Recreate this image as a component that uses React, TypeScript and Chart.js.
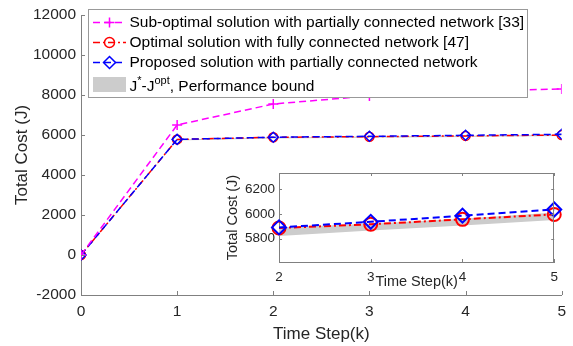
import React, { useEffect, useRef } from "react";
import { Chart, registerables } from "chart.js";

Chart.register(...registerables);

// ---- data ----
const timeSteps = [0, 1, 2, 3, 4, 5];
const subOptimalCost = [0, 6500, 7550, 7950, 8200, 8300];
const optimalCost = [0, 5780, 5885, 5915, 5955, 5995];
const proposedCost = [0, 5780, 5890, 5935, 5985, 6035];
const boundUpper = [0, 5780, 5890, 5920, 5960, 6010];
const boundLower = [0, 5720, 5820, 5865, 5905, 5950];

const mainXTicks = [0, 1, 2, 3, 4, 5];
const mainYTicks = [-2000, 0, 2000, 4000, 6000, 8000, 10000, 12000];
const insetXTicks = [2, 3, 4, 5];
const insetYTicks = [5800, 6000, 6200];
const insetFrom = 2;

const seriesLabels = [
  "Sub-optimal solution with partially connected network [33]",
  "Optimal solution with fully connected network [47]",
  "Proposed solution with partially connected network",
];
const boundLabelParts = ["J", "*", "-J", "opt", ", Performance bound"];
const xTitle = "Time Step(k)";
const yTitle = "Total Cost (J)";

// ---- styles ----
const FONT = "'Liberation Sans', Arial, Helvetica, sans-serif";
const TEXT = "#262626";
const AXIS = "#808080";
const MAGENTA = "#ff00ff";
const RED = "#ff0000";
const BLUE = "#0000ff";
const GRAY = "#cccccc";
const NONE = "rgba(0,0,0,0)";

Chart.defaults.font.family = FONT;

const toPoints = (ys: number[], from = 0) =>
  timeSteps.slice(from).map((x, i) => ({ x, y: ys[from + i] }));

function makeDatasets(from: number, lw: number, rCircle: number, rDiamond: number, rCross: number, withSub: boolean) {
  const ds: any[] = [
    { label: "lower", data: toPoints(boundLower, from), borderWidth: 0, borderColor: NONE, pointRadius: 0, fill: false, order: 10 },
    { label: "upper", data: toPoints(boundUpper, from), borderWidth: 0, borderColor: NONE, pointRadius: 0, fill: "-1", backgroundColor: GRAY, order: 9 },
    {
      label: seriesLabels[1], data: toPoints(optimalCost, from), borderColor: RED, borderWidth: lw,
      borderDash: [7, 3, 2, 3], pointStyle: "circle", pointRadius: rCircle, pointBorderColor: RED,
      pointBackgroundColor: NONE, pointBorderWidth: lw, fill: false, order: 3,
    },
    {
      label: seriesLabels[2], data: toPoints(proposedCost, from), borderColor: BLUE, borderWidth: lw,
      borderDash: [7, 4], pointStyle: "rectRot", pointRadius: rDiamond, pointBorderColor: BLUE,
      pointBackgroundColor: NONE, pointBorderWidth: lw, fill: false, order: 2,
    },
  ];
  if (withSub) {
    ds.push({
      label: seriesLabels[0], data: toPoints(subOptimalCost, from), borderColor: MAGENTA, borderWidth: lw,
      borderDash: [7, 4], pointStyle: "cross", pointRadius: rCross, pointBorderColor: MAGENTA,
      pointBackgroundColor: NONE, pointBorderWidth: lw, fill: false, order: 1,
    });
  }
  return ds;
}

const inwardTicks = (len: number, box: boolean) => ({
  id: "inwardTicks",
  afterDatasetsDraw(chart: any) {
    const { ctx, chartArea: a, scales } = chart;
    const xs = scales.x, ys = scales.y;
    ctx.save();
    ctx.strokeStyle = AXIS;
    ctx.lineWidth = 1;
    ctx.setLineDash([]);
    ctx.beginPath();
    xs.ticks.forEach((t: any) => {
      const px = Math.round(xs.getPixelForValue(t.value)) + 0.5;
      ctx.moveTo(px, a.bottom);
      ctx.lineTo(px, a.bottom - len);
      if (box) { ctx.moveTo(px, a.top); ctx.lineTo(px, a.top + len); }
    });
    ys.ticks.forEach((t: any) => {
      const py = Math.round(ys.getPixelForValue(t.value)) + 0.5;
      ctx.moveTo(a.left, py);
      ctx.lineTo(a.left + len, py);
      if (box) { ctx.moveTo(a.right, py); ctx.lineTo(a.right - len, py); }
    });
    if (box) {
      const t = Math.round(a.top) + 0.5, r = Math.round(a.right) - 0.5;
      ctx.moveTo(a.left, t); ctx.lineTo(a.right, t);
      ctx.moveTo(r, a.top); ctx.lineTo(r, a.bottom);
    }
    ctx.stroke();
    ctx.restore();
  },
});

const whiteArea = {
  id: "whiteArea",
  beforeDraw(chart: any) {
    const { ctx, chartArea: a } = chart;
    ctx.save();
    ctx.fillStyle = "#ffffff";
    ctx.fillRect(a.left, a.top, a.right - a.left, a.bottom - a.top);
    ctx.restore();
  },
};

function drawMarker(ctx: CanvasRenderingContext2D, style: string, x: number, y: number, r: number) {
  ctx.beginPath();
  if (style === "circle") ctx.arc(x, y, r, 0, Math.PI * 2);
  else if (style === "rectRot") { ctx.moveTo(x, y - r); ctx.lineTo(x + r, y); ctx.lineTo(x, y + r); ctx.lineTo(x - r, y); ctx.closePath(); }
  else { ctx.moveTo(x - r, y); ctx.lineTo(x + r, y); ctx.moveTo(x, y - r); ctx.lineTo(x, y + r); }
  ctx.stroke();
}

const legendPlugin = {
  id: "boxLegend",
  afterDraw(chart: any) {
    const ctx: CanvasRenderingContext2D = chart.ctx;
    const L = 88.5, T = 9.5, R = 527.5, B = 97.5;
    ctx.save();
    ctx.fillStyle = "#ffffff";
    ctx.fillRect(L, T, R - L, B - T);
    ctx.strokeStyle = "#999999";
    ctx.lineWidth = 1;
    ctx.setLineDash([]);
    ctx.strokeRect(L, T, R - L, B - T);
    const sx0 = 93, sx1 = 126, mx = 109.5, tx = 129.5;
    const rows = [
      { y: 22.5, color: MAGENTA, dash: [7, 4], style: "cross", r: 5, text: seriesLabels[0] },
      { y: 42.5, color: RED, dash: [7, 3, 2, 3], style: "circle", r: 5, text: seriesLabels[1] },
      { y: 62.5, color: BLUE, dash: [7, 4], style: "rectRot", r: 6, text: seriesLabels[2] },
    ];
    ctx.font = `15.5px ${FONT}`;
    ctx.textBaseline = "middle";
    ctx.textAlign = "left";
    rows.forEach((row) => {
      ctx.strokeStyle = row.color;
      ctx.lineWidth = 1.5;
      ctx.setLineDash(row.dash);
      ctx.beginPath();
      ctx.moveTo(sx0, row.y);
      ctx.lineTo(sx1, row.y);
      ctx.stroke();
      ctx.setLineDash([]);
      drawMarker(ctx, row.style, mx, row.y, row.r);
      ctx.fillStyle = "#000000";
      ctx.fillText(row.text, tx, row.y);
    });
    // bound row
    ctx.fillStyle = GRAY;
    ctx.fillRect(93, 77, 33, 15);
    let x = tx;
    const base = 87;
    boundLabelParts.forEach((part, i) => {
      const sup = i === 1 || i === 3;
      ctx.font = sup ? `11px ${FONT}` : `15.5px ${FONT}`;
      ctx.fillStyle = "#000000";
      ctx.fillText(part, x, sup ? base - 6 : base);
      x += ctx.measureText(part).width;
    });
    ctx.restore();
  },
};

function axisCommon(ticksArr: number[], fontSize: number, pad: number, size: (s: any) => void, title: string, titleSize: number, titlePad: any) {
  return {
    type: "linear" as const,
    afterBuildTicks: (s: any) => { s.ticks = ticksArr.map((v) => ({ value: v })); },
    afterFit: size,
    grid: { display: false, drawTicks: false, drawOnChartArea: false },
    border: { display: true, color: AXIS, width: 1 },
    ticks: { padding: pad, color: TEXT, font: { size: fontSize }, maxRotation: 0, autoSkip: false, callback: (v: any) => String(v) },
    title: { display: true, text: title, color: TEXT, font: { size: titleSize }, padding: titlePad },
  };
}

export default function App() {
  const mainRef = useRef<HTMLCanvasElement>(null);
  const insetRef = useRef<HTMLCanvasElement>(null);

  useEffect(() => {
    const main = new Chart(mainRef.current!, {
      type: "line",
      data: { datasets: makeDatasets(0, 1.5, 4.5, 5, 5, true) },
      options: {
        responsive: false,
        animation: false,
        events: [],
        layout: { padding: { left: 0, right: 11, top: 15, bottom: 0 } },
        plugins: { legend: { display: false }, tooltip: { enabled: false } },
        scales: {
          x: { ...axisCommon(mainXTicks, 15.5, 7, (s: any) => { s.height = 51; }, xTitle, 17, { top: 0, bottom: 1 }), min: 0, max: 5 },
          y: { ...axisCommon(mainYTicks, 15.5, 5, (s: any) => { s.width = 81; }, yTitle, 17, { top: 12, bottom: 0 }), min: -2000, max: 12000 },
        },
      } as any,
      plugins: [inwardTicks(4, false), legendPlugin],
    });
    const inset = new Chart(insetRef.current!, {
      type: "line",
      data: { datasets: makeDatasets(insetFrom, 2, 6.5, 7, 6, false).map((d) => ({ ...d, clip: false })) },
      options: {
        responsive: false,
        animation: false,
        events: [],
        layout: { padding: { left: 0, right: 7, top: 13, bottom: 0 } },
        plugins: { legend: { display: false }, tooltip: { enabled: false } },
        scales: {
          x: { ...axisCommon(insetXTicks, 13.5, 7, (s: any) => { s.height = 28; }, xTitle, 14.5, { top: 0, bottom: -1 }), min: 2, max: 5 },
          y: { ...axisCommon(insetYTicks, 13.5, 4, (s: any) => { s.width = 64; }, yTitle, 14.5, { top: 9, bottom: 0 }), min: 5610, max: 6330 },
        },
      } as any,
      plugins: [whiteArea, inwardTicks(3, true)],
    });
    return () => { main.destroy(); inset.destroy(); };
  }, []);

  return (
    <div style={{ position: "fixed", left: 0, top: 0, width: 573, height: 346, background: "#ffffff" }}>
      <canvas ref={mainRef} width={573} height={346} style={{ position: "absolute", left: 0, top: 0, display: "block" }} />
      <canvas ref={insetRef} width={350} height={130} style={{ position: "absolute", left: 215, top: 160, display: "block" }} />
    </div>
  );
}
